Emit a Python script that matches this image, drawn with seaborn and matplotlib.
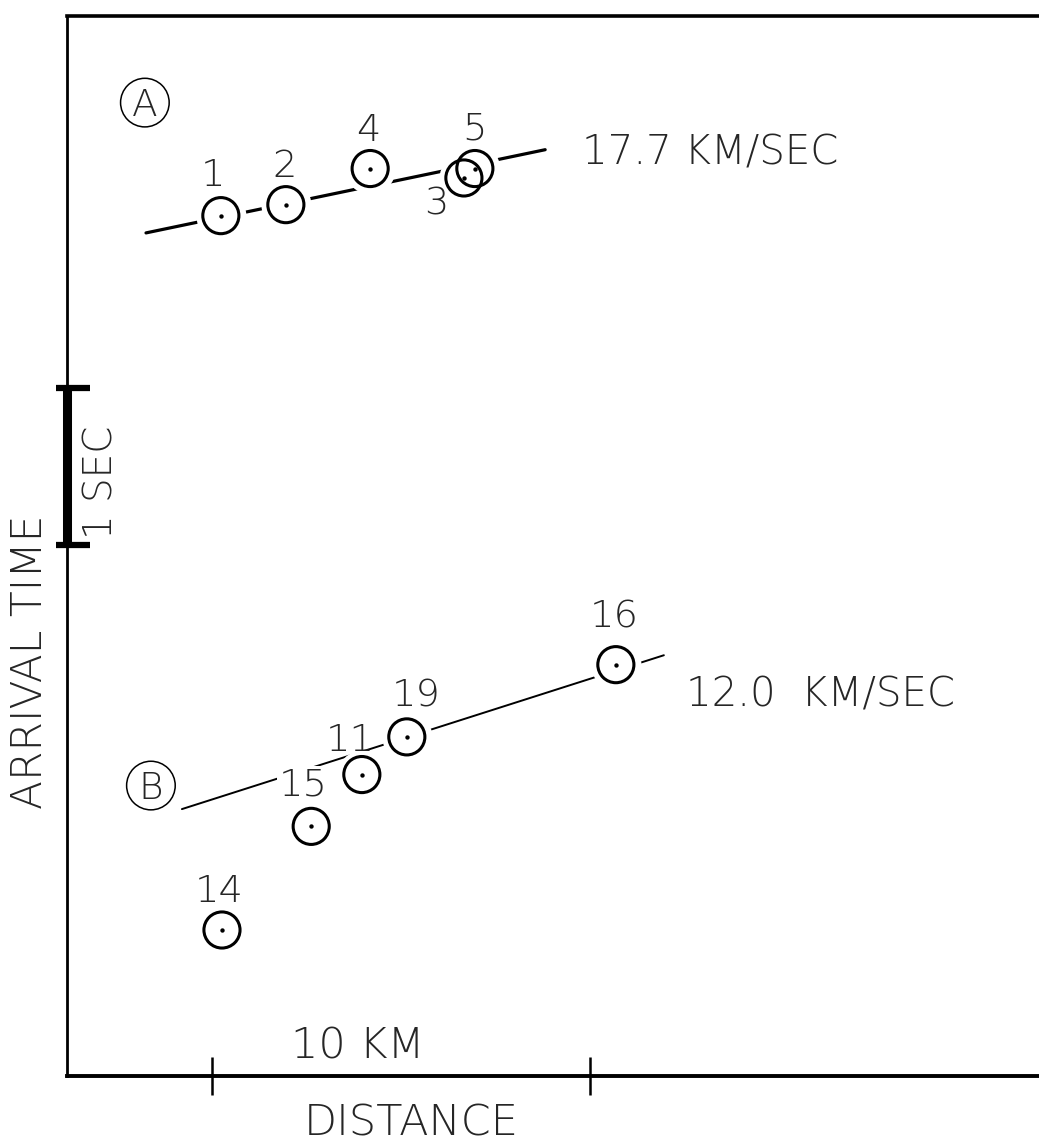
import matplotlib
matplotlib.use("Agg")
import matplotlib.pyplot as plt
import seaborn as sns
import pandas as pd

# ---------------- data (distance in km, reduced arrival time in s) ----------------
a_ids = ["1", "2", "4", "5", "3"]
a_dist = [4.07, 5.79, 8.02, 10.79, 10.50]
a_time = [5.48, 5.55, 5.78, 5.78, 5.72]

b_ids = ["16", "19", "11", "15", "14"]
b_dist = [14.52, 8.99, 7.80, 6.46, 4.10]
b_time = [2.62, 2.16, 1.92, 1.59, 0.93]

fit_a_dist = [2.09, 12.65]
fit_a_time = [5.37, 5.90]
fit_b_dist = [3.04, 15.79]
fit_b_time = [1.70, 2.68]

velocity_labels = ["17.7 KM/SEC", "12.0  KM/SEC"]
velocity_label_dist = [13.62, 16.38]
velocity_label_time = [5.90, 2.45]

group_labels = ["A", "B"]
group_label_dist = [2.06, 2.22]
group_label_time = [6.20, 1.85]

scale_bar_time = [3.38, 4.38]        # 1 SEC
scale_bar_label = "1 SEC"
km_tick_dist = [3.84, 13.84]         # 10 KM apart
km_label = "10 KM"
km_label_dist = 7.70
km_label_time = 0.21

x_label = "DISTANCE"
y_label = "ARRIVAL TIME"

# ---------------- style ----------------
sns.set_theme(style="white")
plt.rcParams["font.family"] = ["DejaVu Sans"]
FONT = dict(family=["DejaVu Sans"], fontweight="light")

W, H = 1039, 1147
fig = plt.figure(figsize=(W / 100, H / 100), dpi=100)
fig.patch.set_facecolor("white")
left_px, top_px, bottom_px = 67, 16, 1076
ax = fig.add_axes([left_px / W, 1 - bottom_px / H, 1 - left_px / W, (bottom_px - top_px) / H])
ax.set_facecolor("white")
ax.set_xlim(0, (W - left_px) / 37.8)
ax.set_ylim(0, (bottom_px - top_px) / 157)

for side in ["left", "top", "bottom"]:
    ax.spines[side].set_visible(True)
    ax.spines[side].set_color("black")
ax.spines["left"].set_linewidth(2.0)
ax.spines["top"].set_linewidth(2.6)
ax.spines["bottom"].set_linewidth(2.8)
ax.spines["right"].set_visible(False)

ax.set_xticks(km_tick_dist)
ax.set_yticks([])
ax.tick_params(axis="x", direction="inout", length=27, width=1.8, color="black",
               labelbottom=False, bottom=True)
ax.set_xlabel("")
ax.set_ylabel("")

df_a = pd.DataFrame({"dist": a_dist, "time": a_time, "id": a_ids})
df_b = pd.DataFrame({"dist": b_dist, "time": b_time, "id": b_ids})
fit_a = pd.DataFrame({"dist": fit_a_dist, "time": fit_a_time})
fit_b = pd.DataFrame({"dist": fit_b_dist, "time": fit_b_time})

# travel-time lines
sns.lineplot(data=fit_a, x="dist", y="time", ax=ax, color="black", lw=2.3, zorder=1)
sns.lineplot(data=fit_b, x="dist", y="time", ax=ax, color="black", lw=1.4, zorder=1)

# white masks -> gaps in lines around the circles
for df in (df_a, df_b):
    sns.scatterplot(data=df, x="dist", y="time", ax=ax, s=36 ** 2, color="white",
                    linewidth=0, zorder=2, legend=False)
# rings and centre dots
for df in (df_a, df_b):
    sns.scatterplot(data=df, x="dist", y="time", ax=ax, s=26 ** 2, facecolor="none",
                    edgecolor="black", linewidth=2.2, zorder=3, legend=False)
    sns.scatterplot(data=df, x="dist", y="time", ax=ax, s=10, color="black",
                    linewidth=0, zorder=4, legend=False)

# station numbers (offsets in points: centre of label relative to marker)
a_off = {"1": (-6, 31), "2": (-1, 30), "4": (-1, 30), "5": (0, 31), "3": (-20, -16)}
b_off = {"16": (-1, 37), "19": (7, 32), "11": (-8, 27), "15": (-6, 32), "14": (-2, 30)}
cap_shift = 10  # points between label centre and baseline
for df, offs in ((df_a, a_off), (df_b, b_off)):
    for d, t, i in zip(df["dist"], df["time"], df["id"]):
        dx, dy = offs[i]
        kw = {}
        if i == "15":
            kw["bbox"] = dict(boxstyle="square,pad=0.05", fc="white", ec="none")
        ax.annotate(i, (d, t), xytext=(dx, dy - cap_shift), textcoords="offset points",
                    ha="center", va="baseline", fontsize=27.5, zorder=5, **FONT, **kw)

# velocity labels
for lab, d, t in zip(velocity_labels, velocity_label_dist, velocity_label_time):
    ax.annotate(lab, (d, t), xytext=(0, -cap_shift - 1), textcoords="offset points",
                ha="left", va="baseline", fontsize=29, **FONT)

# circled group letters
sns.scatterplot(x=group_label_dist, y=group_label_time, ax=ax, s=35 ** 2,
                facecolor="none", edgecolor="black", linewidth=1.1, zorder=3, legend=False)
for lab, d, t in zip(group_labels, group_label_dist, group_label_time):
    ax.annotate(lab, (d, t), xytext=(0, -cap_shift), textcoords="offset points",
                ha="center", va="baseline", fontsize=27, **FONT)

# 1 SEC scale bar on the time axis
ax.plot([0, 0], scale_bar_time, color="black", lw=6.5, solid_capstyle="butt",
        clip_on=False, zorder=6)
ax.plot([0.15, 0.15], scale_bar_time, ls="none", marker="_", ms=24, mew=4.5,
        color="black", clip_on=False, zorder=6)
ax.annotate(scale_bar_label, (0, sum(scale_bar_time) / 2), xytext=(25, -11),
            textcoords="offset points", rotation=90, ha="center", va="center",
            fontsize=28, **FONT)

# 10 KM distance scale
ax.annotate(km_label, (km_label_dist, km_label_time), xytext=(0, -cap_shift - 1),
            textcoords="offset points", ha="center", va="baseline", fontsize=31, **FONT)

# axis titles
fig.text(411 / W, 1 - 1123 / H, x_label, ha="center", va="center", fontsize=31, **FONT)
fig.text(30 / W, 1 - 662 / H, y_label, ha="center", va="center", rotation=90,
         fontsize=30.5, **FONT)

fig.savefig("out.png", dpi=100, facecolor="white")
